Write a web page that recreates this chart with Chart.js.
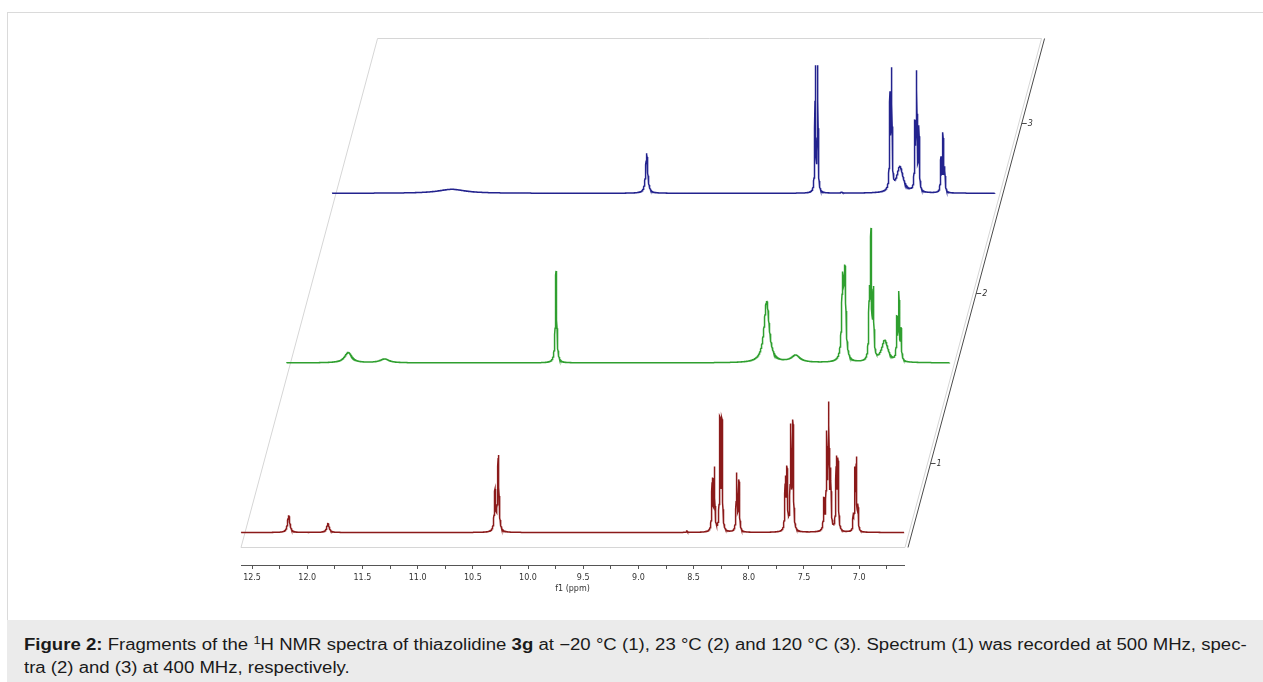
<!DOCTYPE html>
<html>
<head>
<meta charset="utf-8">
<script src="https://cdn.jsdelivr.net/npm/chart.js@4.4.1/dist/chart.umd.min.js"></script>
<style>
  html, body { margin: 0; padding: 0; background: #fff; width: 1263px; height: 682px; overflow: hidden; }
  #border { position: absolute; left: 7px; top: 12px; width: 1256px; height: 608px; border-top: 1px solid #dadada; border-left: 1px solid #dadada; box-sizing: border-box; }
  #chart { position: absolute; left: 0; top: 0; }
  #caption { position: absolute; left: 7px; top: 620px; width: 1256px; height: 62px; background: #ebebeb; }
  #captext { position: absolute; left: 17px; top: 13px; width: 1054px; font-family: "Liberation Sans", Arial, sans-serif; font-size: 16px; line-height: 23px; color: #1a1a1a; transform: scaleX(1.16); transform-origin: 0 0; }
  #captext .l1 { text-align: justify; text-align-last: justify; }
  #captext sup { font-size: 11px; line-height: 0; vertical-align: 6px; }
</style>
</head>
<body>
<div id="border"></div>
<canvas id="chart" width="1263" height="620"></canvas>
<div id="caption">
  <div id="captext">
    <div class="l1"><b>Figure 2:</b> Fragments of the <sup>1</sup>H NMR spectra of thiazolidine <b>3g</b> at −20 °C (1), 23 °C (2) and 120 °C (3). Spectrum (1) was recorded at 500 MHz, spec-</div>
    <div>tra (2) and (3) at 400 MHz, respectively.</div>
  </div>
</div>
<script>
// ---------------- data ----------------
// chemical-shift window of the spectra (ppm)
const ppmLeft = 12.6;
const ppmRight = 6.594;

// x-axis ticks
const majorTicks = [12.5, 12.0, 11.5, 11.0, 10.5, 10.0, 9.5, 9.0, 8.5, 8.0, 7.5, 7.0];
const majorTickLabels = ['12.5', '12.0', '11.5', '11.0', '10.5', '10.0', '9.5', '9.0', '8.5', '8.0', '7.5', '7.0'];
const minorTicks = [12.25, 11.75, 11.25, 10.75, 10.25, 9.75, 9.25, 8.75, 8.25, 7.75, 7.25, 6.75];
const axisTitle = 'f1 (ppm)';

// depth (spectrum) axis labels
const depthLabels = ['1', '2', '3'];

// peak lists: [shift (ppm), height (intensity), half-width (ppm)]
const peaks1 = [ // −20 °C, 500 MHz
  [12.168, 17.3, 0.012], [11.812, 9, 0.013],
  [10.299, 43.6, 0.007], [10.269, 77.5, 0.007],
  [8.56, 1.5, 0.005],
  [8.331, 55, 0.005], [8.312, 66, 0.005], [8.261, 116, 0.0045], [8.243, 115, 0.0045],
  [8.110, 60, 0.005], [8.089, 53, 0.005],
  [7.669, 57, 0.005], [7.654, 67, 0.005], [7.620, 109, 0.005], [7.600, 113, 0.005],
  [7.319, 35, 0.005], [7.294, 102, 0.005], [7.276, 131, 0.005], [7.258, 65, 0.005],
  [7.207, 77, 0.005], [7.192, 75, 0.005],
  [7.053, 20, 0.004], [7.038, 66, 0.004], [7.026, 76, 0.004], [7.011, 29, 0.004]
];
const peaks2 = [ // 23 °C, 400 MHz
  [12.04, 10.5, 0.04], [11.71, 4, 0.05],
  [10.158, 92, 0.007],
  [8.25, 62, 0.028], [7.987, 8, 0.05],
  [7.562, 91, 0.01], [7.541, 98, 0.01],
  [7.32, 78, 0.006], [7.305, 135, 0.005], [7.284, 77, 0.006],
  [7.18, 23, 0.035],
  [7.07, 47, 0.005], [7.052, 72, 0.005], [7.033, 35, 0.005]
];
const peaks3 = [ // 120 °C, 400 MHz
  [11.513, 4, 0.15],
  [9.749, 40, 0.011],
  [8.222, 128, 0.004], [8.200, 128, 0.004],
  [7.983, 1.5, 0.006],
  [7.545, 102, 0.0045], [7.530, 126, 0.0045],
  [7.455, 27, 0.035],
  [7.319, 73, 0.0045], [7.304, 123, 0.0045], [7.283, 68, 0.0045],
  [7.083, 37, 0.0045], [7.065, 61, 0.0045], [7.049, 27, 0.0045]
];

const seriesColors = ['#8b1a1a', '#2f9f2f', '#23238e'];

// ---------------- layout constants ----------------
const depthStepX = 45.5;      // px shift to the right per spectrum
const depthStepY = 169.6;     // px rise per spectrum (= intensity units)
const pxPerPpm = 110.4;
const depthShiftPpm = depthStepX / pxPerPpm;
const plotHeight = 527;       // chart area height in px (= intensity units)
const baseLevel = -32.5;      // baseline of spectrum 1 relative to axis bottom
const floorLevel = -14;       // floor of the stacked frame (intensity units of spectrum 1)
const depthLabelLevel = 70;   // level of the depth-axis tick for each spectrum

// ---------------- build line shapes from the peak lists ----------------
function lor(x, c, w) { const d = (x - c) / w; return 1 / (1 + d * d); }
function buildSpectrum(peaks) {
  const amp = peaks.map(p => p[1]);
  for (let it = 0; it < 60; it++) {
    peaks.forEach((p, i) => {
      let s = 0;
      peaks.forEach((q, j) => { if (j !== i) s += amp[j] * lor(p[0], q[0], q[2]); });
      amp[i] = Math.max(0, p[1] - s);
    });
  }
  const xs = [];
  const step = 0.0015;
  for (let v = ppmRight; v <= ppmLeft; v += step) xs.push(v);
  peaks.forEach(p => xs.push(p[0]));
  xs.sort((a, b) => b - a);
  return xs.map(x => ({ x: x, y: peaks.reduce((s, q, j) => s + amp[j] * lor(x, q[0], q[2]), 0) }));
}

const spectra = [peaks1, peaks2, peaks3].map(buildSpectrum);

// ---------------- scales ----------------
const scales = {
  x: {
    type: 'linear', position: 'bottom', reverse: true,
    min: ppmRight, max: ppmLeft,
    afterBuildTicks(scale) {
      scale.ticks = majorTicks.concat(minorTicks).sort((a, b) => b - a).map(v => ({ value: v }));
    },
    afterFit(scale) { scale.height = 29; },
    ticks: {
      autoSkip: false, maxRotation: 0, padding: 4, color: '#333',
      font: { family: 'DejaVu Sans', size: 8 },
      callback(value) {
        const k = majorTicks.findIndex(t => Math.abs(t - value) < 1e-6);
        return k >= 0 ? majorTickLabels[k] : '';
      }
    },
    grid: { drawOnChartArea: false, drawTicks: true, tickLength: 4, tickColor: '#555', color: '#555' },
    border: { display: true, color: '#555', width: 1 },
    title: { display: true, text: axisTitle, color: '#333', font: { family: 'DejaVu Sans', size: 8 }, padding: { top: 0, bottom: 0 } }
  }
};
for (let i = 0; i < 3; i++) {
  const lo = baseLevel - i * depthStepY;
  scales['y' + (i + 1)] = { type: 'linear', display: false, min: lo, max: lo + plotHeight };
  if (i > 0) {
    scales['x' + (i + 1)] = { type: 'linear', display: false, reverse: true,
      min: ppmRight + i * depthShiftPpm, max: ppmLeft + i * depthShiftPpm };
  }
}

const framePlugin = {
  id: 'stackFrame',
  beforeDatasetsDraw(chart) {
    const { ctx, chartArea: a } = chart;
    const floorY = Math.round(chart.scales.y1.getPixelForValue(floorLevel)) + 0.5;
    const top = Math.round(a.top) + 0.5;
    const slope = depthStepX / depthStepY;
    const rise = floorY - top;
    const lx0 = a.left, lx1 = a.left + rise * slope;
    const rx0 = a.right + 1, rx1 = rx0 + rise * slope;
    ctx.save();
    ctx.lineWidth = 1;
    ctx.strokeStyle = '#d6d6d6';
    ctx.beginPath();
    ctx.moveTo(lx0, floorY); ctx.lineTo(lx1, top); ctx.lineTo(rx1, top); ctx.lineTo(rx0, floorY); ctx.closePath();
    ctx.stroke();
    const dx0 = rx0 + 3;
    ctx.strokeStyle = '#4a4a4a';
    ctx.beginPath(); ctx.moveTo(dx0, floorY); ctx.lineTo(dx0 + rise * slope, top); ctx.stroke();
    ctx.font = 'italic 8px "DejaVu Sans"';
    ctx.fillStyle = '#333';
    ctx.textBaseline = 'middle';
    depthLabels.forEach((lab, i) => {
      const y = Math.round(chart.scales['y' + (i + 1)].getPixelForValue(depthLabelLevel)) + 0.5;
      const x = dx0 + (floorY - y) * slope;
      ctx.beginPath(); ctx.moveTo(x, y); ctx.lineTo(x + 5, y); ctx.stroke();
      ctx.fillText(lab, x + 6, y);
    });
    ctx.restore();
  }
};

new Chart(document.getElementById('chart'), {
  type: 'line',
  data: {
    datasets: spectra.map((d, i) => ({
      label: depthLabels[i],
      data: d,
      xAxisID: i === 0 ? 'x' : 'x' + (i + 1),
      yAxisID: 'y' + (i + 1),
      borderColor: seriesColors[i],
      borderWidth: 1.5,
      pointRadius: 0,
      tension: 0,
      fill: false,
      clip: false
    }))
  },
  options: {
    responsive: false,
    animation: false,
    parsing: false,
    normalized: true,
    events: [],
    layout: { padding: { left: 241, right: 359, top: 38, bottom: 26 } },
    plugins: { legend: { display: false }, tooltip: { enabled: false }, title: { display: false } },
    scales: scales
  },
  plugins: [framePlugin]
});
</script>
</body>
</html>
